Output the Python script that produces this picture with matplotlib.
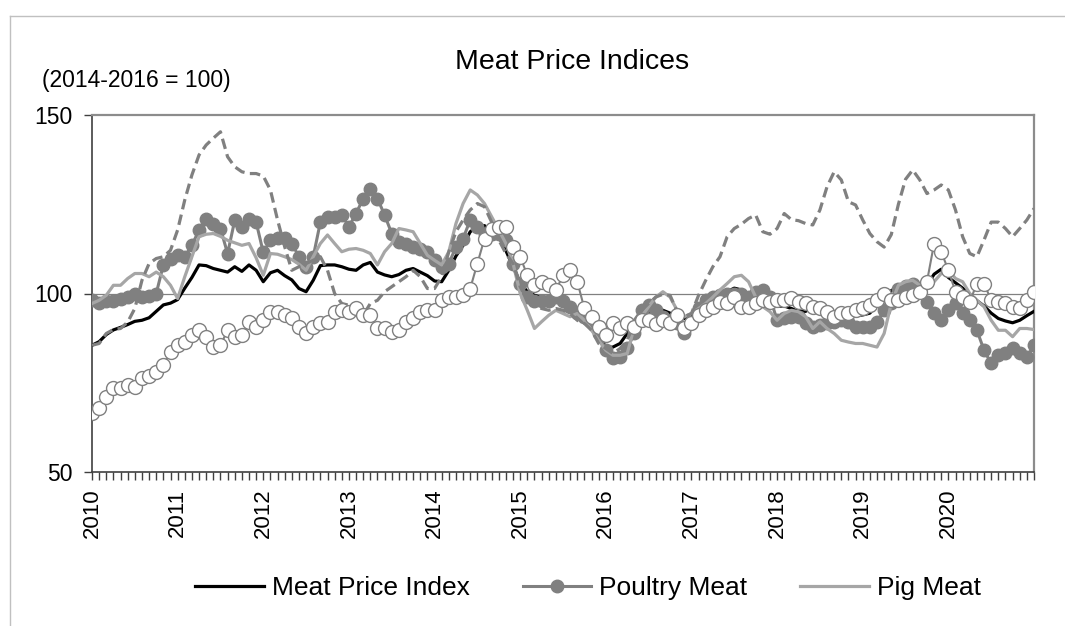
import matplotlib
matplotlib.use("Agg")
import matplotlib.pyplot as plt
import numpy as np
from matplotlib.lines import Line2D

plt.rcParams['font.family'] = ['Liberation Sans', 'DejaVu Sans']

# monthly values, Jan 2010 .. Jan 2021 (2014-2016 = 100)
years = [str(y) for y in range(2010, 2021)]

meat_index = [
    85.5, 86.5, 88.5, 89.8, 90.5, 91.3, 92.2, 92.5, 93.2, 95.0, 96.8, 97.3,
    98.3, 101.5, 104.5, 108.0, 107.8, 107.0, 106.5, 106.0, 107.5, 106.2, 108.0, 106.5,
    103.3, 105.8, 106.5, 105.0, 103.8, 101.4, 100.5, 103.7, 107.8, 108.0, 108.0, 107.5,
    106.8, 106.5, 108.0, 108.7, 106.0, 105.2, 104.7, 105.3, 106.5, 107.0, 106.0, 105.0,
    103.5, 103.3, 106.5, 110.5, 113.5, 117.3, 118.7, 119.0, 117.5, 116.0, 112.0, 107.5,
    103.0, 100.5, 99.5, 98.8, 99.0, 98.6, 98.2, 97.2, 95.0, 93.5, 91.5, 88.8,
    84.8, 85.0, 86.0, 88.8, 92.0, 94.0, 95.0, 95.5, 95.3, 94.5, 93.5, 93.0,
    93.3, 96.0, 97.2, 97.3, 98.8, 100.5, 101.5, 101.0, 99.5, 98.3, 97.0, 96.3,
    96.4, 96.5, 95.8, 95.0, 95.0, 96.3, 95.7, 94.6, 93.7, 94.1, 94.2, 93.8,
    94.0, 94.5, 96.9, 99.0, 100.8, 101.8, 102.3, 101.5, 101.6, 102.3, 105.4, 106.8,
    104.5, 103.0, 101.5, 99.8, 98.0, 96.5, 94.5, 93.0, 92.3, 91.8, 92.5, 93.8,
    95.0,
]

poultry = [
    98.1, 97.2, 98.0, 98.0, 98.5, 99.0, 100.0, 99.0, 99.3, 100.0, 108.0, 109.8,
    110.7, 110.3, 113.5, 117.8, 121.0, 119.6, 118.2, 111.2, 120.5, 118.7, 121.0, 120.0,
    111.5, 115.0, 115.5, 115.5, 114.0, 110.3, 107.5, 110.3, 120.0, 121.5, 121.3, 122.0,
    118.7, 122.4, 126.6, 129.4, 126.6, 122.0, 116.8, 114.5, 114.0, 113.0, 112.6, 111.7,
    109.3, 107.5, 108.4, 113.0, 115.4, 120.6, 118.7, 116.8, 116.8, 116.8, 115.0, 108.4,
    102.8, 99.0, 98.0, 98.0, 98.0, 99.0, 98.0, 96.3, 94.4, 93.5, 92.0, 88.8,
    84.1, 81.8, 82.3, 84.6, 88.8, 95.3, 96.7, 95.3, 93.5, 92.0, 91.6, 88.8,
    92.0, 95.8, 98.1, 99.0, 99.5, 100.0, 100.0, 100.0, 99.0, 100.5, 101.0, 99.0,
    92.5, 93.0, 93.5, 93.5, 91.6, 90.7, 91.2, 91.6, 92.0, 92.5, 92.0, 90.7,
    90.7, 90.7, 92.0, 95.3, 97.2, 101.4, 102.0, 102.8, 101.0, 97.7, 94.4, 92.5,
    95.3, 97.2, 94.4, 92.5, 89.7, 84.1, 80.4, 82.7, 83.2, 84.6, 83.2, 82.2,
    85.5,
]

pig = [
    97.2, 98.1, 99.5, 102.3, 102.3, 104.2, 105.6, 105.6, 104.7, 106.0, 104.7, 102.3,
    98.6, 104.7, 110.3, 115.9, 116.6, 116.8, 116.0, 114.9, 114.2, 113.5, 114.0, 110.0,
    105.1, 111.2, 111.0, 110.3, 109.5, 108.2, 106.5, 110.3, 114.0, 116.4, 114.0, 111.7,
    112.4, 112.6, 112.1, 111.2, 108.0, 111.7, 114.0, 118.2, 117.8, 117.3, 114.0, 110.7,
    109.3, 108.0, 111.7, 119.6, 125.2, 129.0, 127.6, 125.2, 121.5, 117.8, 114.0, 108.4,
    100.0, 95.3, 90.2, 92.1, 93.9, 95.3, 94.4, 93.5, 94.4, 92.5, 89.7, 86.9,
    84.1, 82.7, 82.7, 83.2, 90.7, 93.5, 96.3, 99.0, 100.5, 99.0, 95.3, 93.5,
    94.4, 95.8, 97.2, 99.0, 101.0, 102.8, 104.7, 105.1, 103.3, 99.0, 96.3, 94.9,
    92.5, 94.4, 95.3, 94.9, 93.5, 90.2, 92.1, 90.2, 88.8, 86.9, 86.4, 86.0,
    86.0, 85.5, 85.0, 88.8, 97.2, 102.3, 103.3, 103.7, 102.3, 101.9, 103.3, 105.6,
    106.5, 104.2, 103.3, 100.0, 98.1, 96.3, 92.5, 89.7, 89.7, 87.9, 90.2, 90.2,
    89.9,
]

bovine = [
    85.5, 86.0, 88.8, 89.9, 90.2, 92.0, 95.8, 103.7, 108.4, 109.8, 110.3, 112.1,
    117.8, 126.2, 133.2, 138.8, 141.6, 143.5, 145.3, 138.3, 135.5, 134.1, 133.6, 133.6,
    132.9, 129.0, 120.6, 113.1, 106.5, 107.5, 108.4, 109.3, 110.3, 106.5, 100.0, 97.2,
    96.7, 95.3, 93.9, 97.2, 98.1, 100.5, 101.9, 103.3, 104.7, 106.5, 104.7, 101.4,
    101.4, 104.7, 111.7, 117.3, 120.6, 123.4, 125.2, 124.3, 120.0, 115.0, 111.2, 108.4,
    101.9, 98.1, 96.7, 95.8, 95.3, 95.8, 95.3, 94.4, 92.5, 91.6, 89.7, 86.0,
    84.6, 83.2, 84.6, 86.9, 92.5, 95.3, 97.2, 99.0, 99.8, 99.5, 94.9, 93.5,
    94.4, 99.5, 103.7, 107.5, 110.3, 115.9, 118.2, 119.4, 121.0, 122.0, 117.3, 116.6,
    118.2, 122.4, 120.7, 120.4, 119.6, 119.2, 123.4, 129.9, 134.1, 131.8, 125.7, 124.8,
    120.6, 116.8, 114.5, 113.0, 116.5, 125.0, 132.0, 134.6, 131.8, 128.0, 129.0, 130.4,
    129.0, 123.4, 115.9, 111.2, 110.3, 115.0, 120.0, 120.0, 118.2, 115.9, 118.2, 120.6,
    123.8,
]

ovine = [
    66.4, 67.8, 71.0, 73.4, 73.6, 74.3, 73.8, 76.2, 76.8, 78.0, 79.9, 83.6,
    85.5, 86.4, 88.3, 89.7, 87.9, 85.0, 85.5, 89.7, 87.9, 88.3, 92.1, 90.7,
    92.5, 94.9, 94.9, 93.9, 93.0, 90.7, 88.8, 90.7, 91.8, 92.1, 94.9, 95.3,
    94.9, 95.8, 93.9, 93.9, 90.2, 90.2, 89.3, 89.7, 92.1, 93.0, 94.9, 95.3,
    95.5, 98.1, 99.0, 99.0, 99.5, 101.4, 108.4, 115.4, 118.2, 118.7, 118.7, 113.0,
    110.3, 105.1, 102.3, 103.3, 102.3, 100.9, 105.1, 106.5, 103.3, 95.8, 93.5, 90.7,
    88.3, 91.6, 90.2, 91.6, 90.7, 92.5, 92.5, 91.5, 92.5, 91.6, 93.9, 90.2,
    91.6, 93.9, 95.3, 96.3, 97.7, 97.2, 99.0, 96.3, 96.3, 97.2, 98.1, 97.7,
    98.1, 98.1, 98.6, 97.7, 97.2, 96.3, 95.8, 94.9, 93.5, 94.4, 94.4, 95.3,
    95.8, 96.7, 98.1, 100.0, 98.1, 98.1, 99.0, 99.5, 100.5, 103.3, 114.0, 111.7,
    106.5, 100.5, 99.0, 97.7, 102.8, 102.8, 98.1, 97.7, 97.2, 96.3, 95.8, 98.1,
    100.5,
]

months = np.arange(len(meat_index))

fig = plt.figure(figsize=(10.65, 6.26), dpi=100)
ax = fig.add_axes([92 / 1065, 1 - 472 / 626, (1034 - 92) / 1065, (472 - 115) / 626])

ax.axhline(100, color='#808080', lw=0.9, zorder=1)

ax.plot(months, meat_index, color='black', lw=2.3, zorder=3, label='Meat Price Index')
ax.plot(months, poultry, color='#808080', lw=2.2, marker='o', markersize=9,
        markerfacecolor='#808080', markeredgecolor='#808080', zorder=4, label='Poultry Meat')
ax.plot(months, pig, color='#A6A6A6', lw=2.3, zorder=5, label='Pig Meat')
ax.plot(months, bovine, color='#808080', lw=2.3, dashes=(3.3, 1.7), zorder=6)
ax.plot(months, ovine, color='#808080', lw=1.5, marker='o', markersize=10,
        markerfacecolor='white', markeredgecolor='#808080', markeredgewidth=1.0, zorder=7)

ax.set_xlim(0, len(meat_index) - 1)
ax.set_ylim(50, 150)
ax.set_yticks([50, 100, 150])
ax.set_xticks(np.arange(0, 121, 12))
ax.set_xticklabels(years, rotation=90)
ax.set_xticks(months, minor=True)
ax.tick_params(axis='x', which='both', direction='out', length=6, width=1, color='#404040')
ax.tick_params(axis='x', which='major', labelsize=16, pad=6)
ax.tick_params(axis='y', direction='out', length=6, width=1, color='#404040',
               labelsize=16.5, pad=8)

for side in ['top', 'right']:
    ax.spines[side].set_color('#8C8C8C')
    ax.spines[side].set_linewidth(1.6)
ax.spines['left'].set_color('#404040')
ax.spines['bottom'].set_color('#404040')
ax.spines['left'].set_linewidth(1.2)
ax.spines['bottom'].set_linewidth(1.2)

fig.text(572 / 1065, 1 - 62 / 626, 'Meat Price Indices', ha='center', va='center', fontsize=20.5)
fig.text(42 / 1065, 1 - 81 / 626, '(2014-2016 = 100)', ha='left', va='center', fontsize=16.5)

handles, labels = ax.get_legend_handles_labels()
fig.legend(handles, labels, loc='center', bbox_to_anchor=(588 / 1065, 1 - 588 / 626),
           ncol=3, frameon=False, fontsize=19, handlelength=2.6, handletextpad=0.3,
           columnspacing=2.0, borderpad=0)

# light outer frame (left and top edges)
fig.add_artist(Line2D([9.5 / 1065, 9.5 / 1065], [0, 1 - 16 / 626], color='#C0C0C0', lw=1))
fig.add_artist(Line2D([9.5 / 1065, 1], [1 - 16 / 626, 1 - 16 / 626], color='#C0C0C0', lw=1))

fig.savefig('out.png', dpi=100)
